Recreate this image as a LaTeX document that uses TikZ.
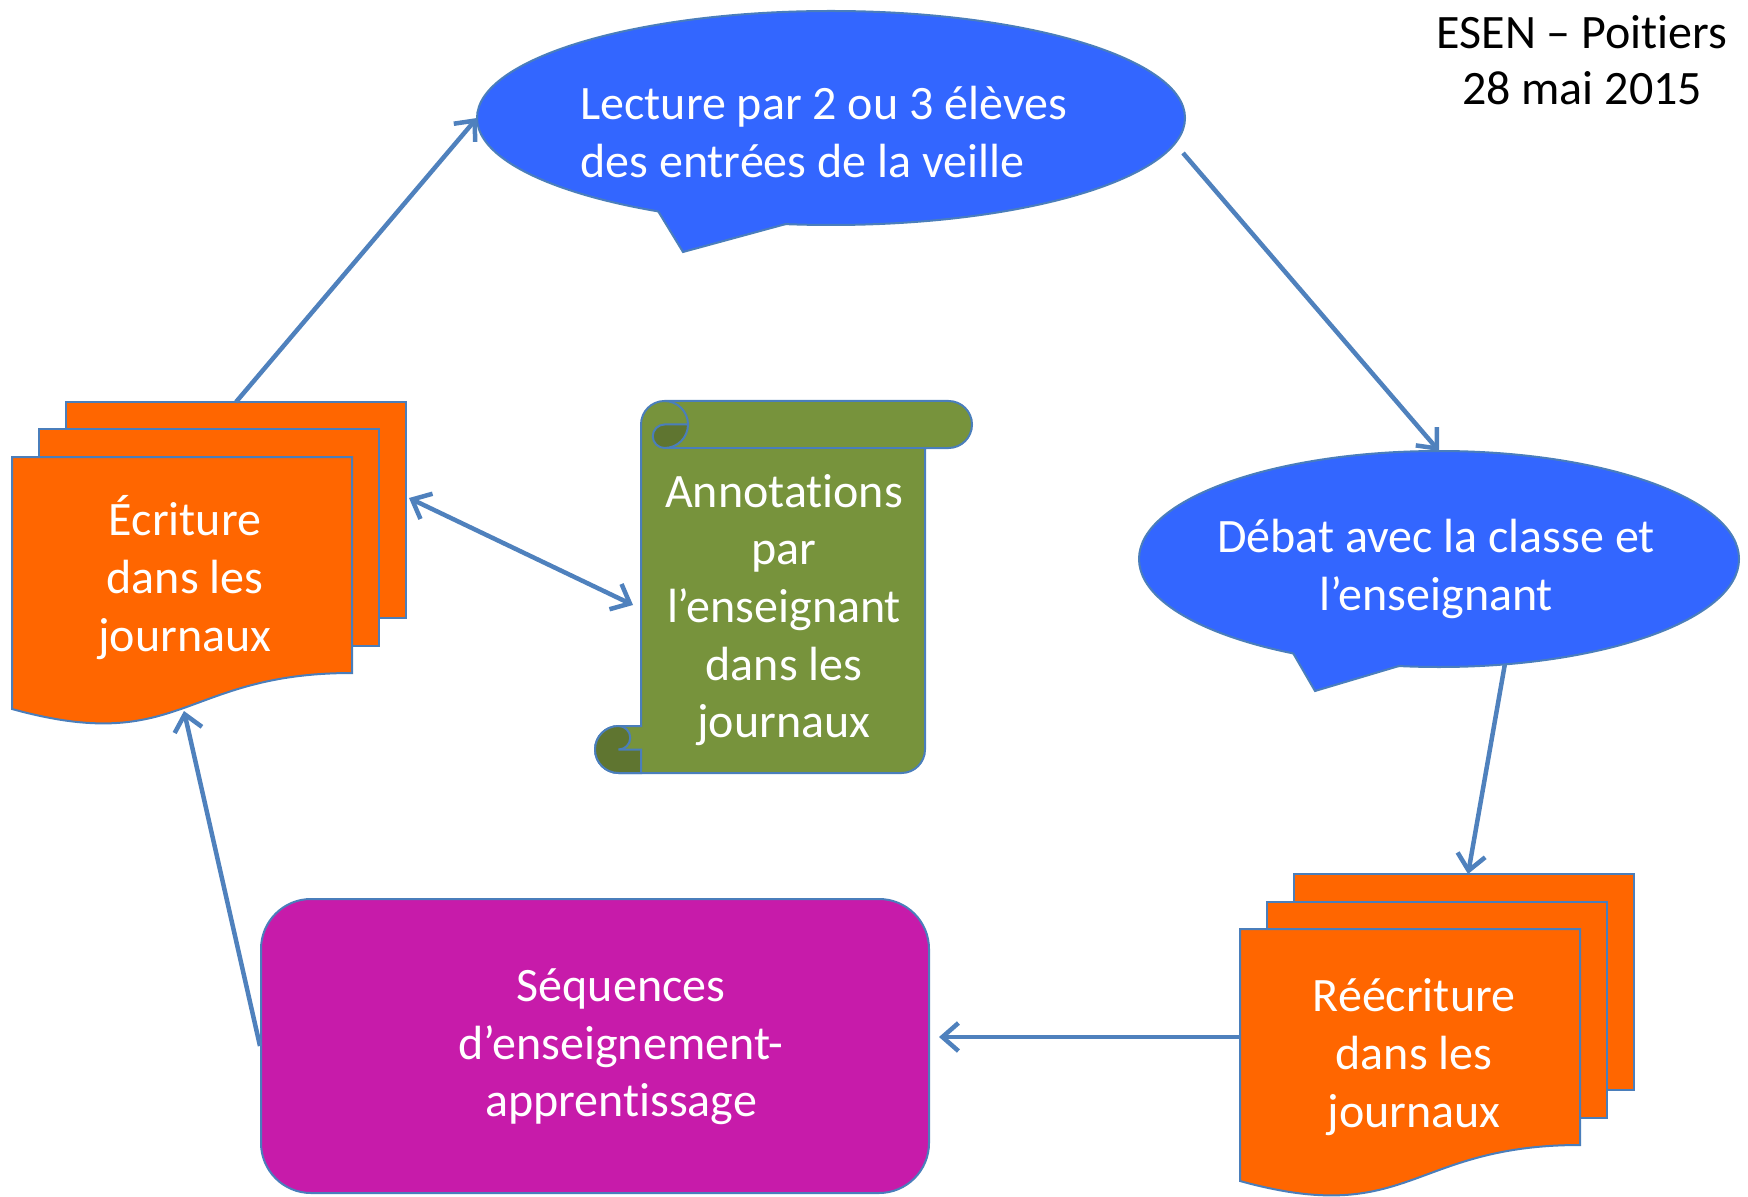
\documentclass[tikz,border=0pt]{standalone}
\usepackage{fontspec}
\setmainfont{Carlito}[Ligatures=CommonOff,RawFeature={-calt;-clig;-dlig}]
\usetikzlibrary{arrows.meta,shapes.geometric}
\definecolor{orng}{HTML}{FF6600}
\definecolor{bluef}{HTML}{3366FF}
\definecolor{grn}{HTML}{77933C}
\definecolor{dgrn}{HTML}{5F7530}
\definecolor{mag}{HTML}{C71BAA}
\definecolor{outl}{HTML}{4A7EBB}
\definecolor{conn}{HTML}{4F81BD}
\newcommand\mymultidoc[2]{%
  \draw[docsheet] (#1+54,#2-55) rectangle (#1+394,#2+161);
  \draw[docsheet] (#1+27,#2-27.5) rectangle (#1+367,#2+188.5);
  \draw[docsheet] (#1,#2) -- (#1+340,#2) -- (#1+340,#2+216)
     .. controls (#1+170,#2+216) and (#1+170,#2+299) .. (#1,#2+252) -- cycle;
}
\begin{document}
\begin{tikzpicture}[x=0.5pt,y=-0.5pt,
  docsheet/.style={fill=orng,draw=outl,line width=1pt},
  bubble/.style={ellipse,fill=bluef,draw=outl,line width=1pt,inner sep=0pt,outer sep=0pt},
  tailfill/.style={fill=bluef},
  tailline/.style={draw=outl,line width=1pt,line join=miter},
  scrollline/.style={draw=outl,line width=1pt},
  lbl/.style={text=white,font=\fontsize{24}{28.8}\selectfont,align=center,inner sep=0pt},
  hdr/.style={text=black,font=\fontsize{24}{28}\selectfont,align=center,inner sep=0pt},
  conline/.style={draw=conn,line width=2.25pt},
  tip/.style={-{Straight Barb[length=8pt,width=14pt]}},
  tips/.style={{Straight Barb[length=8pt,width=14pt]}-{Straight Barb[length=8pt,width=14pt]}}
]
\useasboundingbox (0,0) rectangle (1748,1197);

% ---- top bubble
\node[bubble,minimum width=354pt,minimum height=107pt] (lect) at (831,118) {};
\fill[tailfill] (658,211) -- (683,252) -- (786,224) -- (786,200) -- (658,195) -- cycle;
\draw[tailline] (658,211) -- (683,252) -- (786,224);
\node[lbl,align=left,anchor=west] (lecttxt) at (580,132) {Lecture par 2 ou 3 élèves\\des entrées de la veille};

% ---- right bubble
\node[bubble,minimum width=300pt,minimum height=108pt] (debat) at (1439,559) {};
\fill[tailfill] (1293,653) -- (1315,691) -- (1399,666) -- (1399,640) -- (1293,640) -- cycle;
\draw[tailline] (1293,653) -- (1315,691) -- (1399,666);
\node[lbl] (debattxt) at (1436,569) {Débat avec la classe et\\l’enseignant};

% ---- multidocuments
\mymultidoc{12}{457}
\node[lbl] (ecr) at (185,577.5) {Écriture\\dans les\\journaux};
\mymultidoc{1240}{929}
\node[lbl] (ree) at (1414,1057) {Réécriture\\dans les\\journaux};

% ---- scroll
\path[fill=grn,scrollline]
  (641,424.5) arc[start angle=180,end angle=270,radius=23.5]
  -- (948.5,401) arc[start angle=270,end angle=450,radius=23.5]
  -- (925,448) -- (925,749.5) arc[start angle=0,end angle=90,radius=23.5]
  -- (618.5,773) arc[start angle=90,end angle=270,radius=23.5]
  -- (641,726) -- cycle;
\draw[scrollline] (664.5,448) -- (925,448);
\draw[scrollline] (664.5,401) arc[start angle=270,end angle=360,radius=23.5];
\path[fill=dgrn,scrollline] (664.5,424.5) -- (688,424.5)
  arc[start angle=0,end angle=90,radius=23.5]
  arc[start angle=90,end angle=270,radius=11.75] -- cycle;
\path[fill=dgrn,scrollline] (618.5,726)
  arc[start angle=270,end angle=450,radius=11.75]
  -- (641,749.5) -- (641,773) -- (618.5,773)
  arc[start angle=90,end angle=270,radius=23.5] -- cycle;
\node[lbl] (ann) at (784,610) {Annotations\\par\\l’enseignant\\dans les\\journaux};

% ---- magenta box
\node[fill=mag,draw=outl,line width=1pt,rounded corners=25pt,minimum width=334pt,minimum height=147pt,inner sep=0pt] (seq) at (595,1046) {};
\node[lbl] (seqtxt) at (621,1047) {Séquences\\d’enseignement-\\apprentissage};

% ---- header
\node[hdr] (hdr) at (1582,60) {ESEN – Poitiers\\28 mai 2015};

% ---- connector end points
\coordinate (ecrtop) at (236,402);
\coordinate (ecrright) at (409,498);
\coordinate (ecrbot) at (184,711);
\coordinate (annleft) at (633,605);
\coordinate (lectright) at (1183,153);
\coordinate (reetop) at (1468,874);
\coordinate (reeleft) at (1240,1037);
\coordinate (seqright) at (939,1037);

% ---- connectors
\draw[conline,tip] (ecrtop) -- (lect.west);
\draw[conline,tip] (lectright) -- (debat.north);
\draw[conline,tip] (debat.-58) -- (reetop);
\draw[conline,tip] (reeleft) -- (seqright);
\draw[conline,tip] (seq.west) -- (ecrbot);
\draw[conline,tips] (ecrright) -- (annleft);
\end{tikzpicture}
\end{document}
